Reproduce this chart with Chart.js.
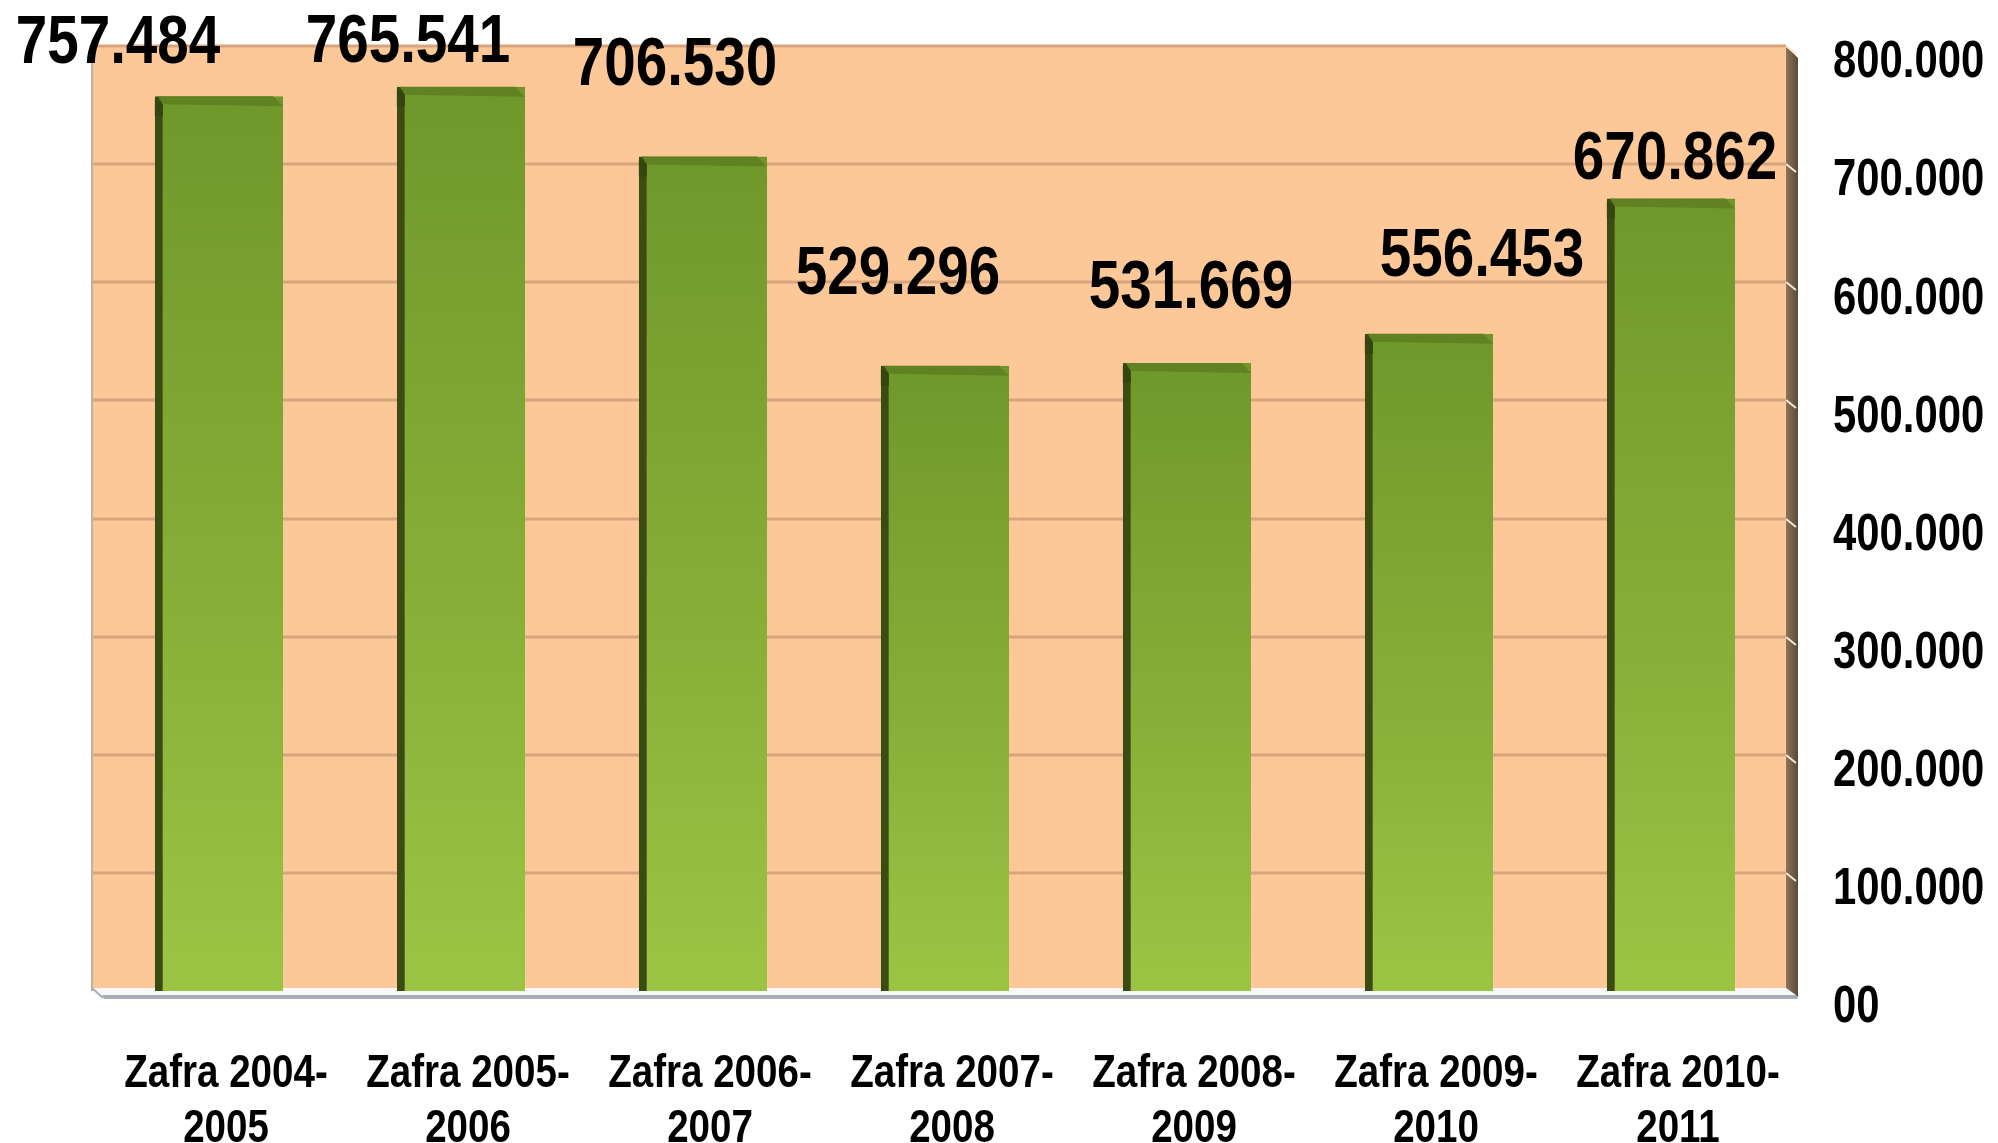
<!DOCTYPE html>
<html>
<head>
<meta charset="utf-8">
<script src="https://cdn.jsdelivr.net/npm/chart.js@4.4.0/dist/chart.umd.min.js"></script>
<style>
  html, body { margin: 0; padding: 0; background: #ffffff; }
  #wrap { width: 1998px; height: 1143px; }
</style>
</head>
<body>
<div id="wrap"><canvas id="zafraChart" width="1998" height="1143"></canvas></div>
<script>
// Datos de la gráfica
const categories = [
    ['Zafra 2004-', '2005'],
    ['Zafra 2005-', '2006'],
    ['Zafra 2006-', '2007'],
    ['Zafra 2007-', '2008'],
    ['Zafra 2008-', '2009'],
    ['Zafra 2009-', '2010'],
    ['Zafra 2010-', '2011']
];
const values = [757484, 765541, 706530, 529296, 531669, 556453, 670862];
const tickValues = [0, 100000, 200000, 300000, 400000, 500000, 600000, 700000, 800000];
const tickLabels = ['00', '100.000', '200.000', '300.000', '400.000', '500.000', '600.000', '700.000', '800.000'];

// desplazamiento de cada etiqueta respecto al centro superior de su barra (px)
const labelShift = [[-101, -58], [-53, -49], [-28, -96], [-47, -96], [4, -80], [53, -82], [4, -44]];

const FONT = "'Liberation Sans', Arial, sans-serif";
const NARROW = 0.82;   // simula Arial Narrow
const SHIFT = 6;       // las barras 3D van algo desplazadas respecto al panel

function formatValue(v) {
    return Math.floor(v / 1000) + '.' + String(v % 1000).padStart(3, '0');
}

// texto negrita estrecho, y = centro de las mayúsculas
function narrowText(ctx, text, x, y, size, align) {
    ctx.save();
    ctx.translate(x, y + size * 0.358);
    ctx.scale(NARROW, 1);
    ctx.font = 'bold ' + size + 'px ' + FONT;
    ctx.textAlign = align;
    ctx.textBaseline = 'alphabetic';
    ctx.fillStyle = '#000000';
    ctx.fillText(text, 0, 0);
    ctx.restore();
}

// Fondo, rejilla, pared derecha y suelo del efecto 3D
const backdrop = {
    id: 'backdrop',
    beforeDatasetsDraw(chart) {
        const { ctx, chartArea: a } = chart;
        const yScale = chart.scales.y;
        const left = a.left - SHIFT;
        const right = a.right - SHIFT;
        ctx.save();
        // pared derecha
        const wall = ctx.createLinearGradient(right, 0, right + 12, 0);
        wall.addColorStop(0, '#8c745c');
        wall.addColorStop(1, '#5a4838');
        ctx.fillStyle = wall;
        ctx.beginPath();
        ctx.moveTo(right, a.top);
        ctx.lineTo(right + 12, a.top + 12);
        ctx.lineTo(right + 12, a.bottom + 6);
        ctx.lineTo(right, a.bottom);
        ctx.closePath();
        ctx.fill();
        // panel de fondo
        ctx.fillStyle = '#fdc898';
        ctx.fillRect(left, a.top, right - left, a.bottom - a.top);
        // rejilla
        ctx.strokeStyle = '#d8a47c';
        ctx.lineWidth = 3;
        tickValues.forEach(v => {
            if (v === 0) return;
            const y = Math.round(yScale.getPixelForValue(v));
            ctx.beginPath();
            ctx.moveTo(left, y);
            ctx.lineTo(right, y);
            ctx.stroke();
            ctx.strokeStyle = '#f4e6d8';
            ctx.lineWidth = 2;
            ctx.beginPath();
            ctx.moveTo(right, y);
            ctx.lineTo(right + 10, y + 8);
            ctx.stroke();
            ctx.strokeStyle = '#d8a47c';
            ctx.lineWidth = 3;
        });
        // borde izquierdo
        ctx.strokeStyle = '#bdb3aa';
        ctx.lineWidth = 2;
        ctx.beginPath();
        ctx.moveTo(left, a.top);
        ctx.lineTo(left, a.bottom);
        ctx.stroke();
        // suelo
        ctx.fillStyle = '#f8f8f8';
        ctx.beginPath();
        ctx.moveTo(left, a.bottom - 3);
        ctx.lineTo(right, a.bottom - 3);
        ctx.lineTo(right + 10, a.bottom + 4);
        ctx.lineTo(left + 10, a.bottom + 4);
        ctx.closePath();
        ctx.fill();
        ctx.fillStyle = '#a9aeb4';
        ctx.beginPath();
        ctx.moveTo(left + 10, a.bottom + 4);
        ctx.lineTo(right + 10, a.bottom + 4);
        ctx.lineTo(right + 12, a.bottom + 8);
        ctx.lineTo(left + 12, a.bottom + 8);
        ctx.closePath();
        ctx.fill();
        ctx.strokeStyle = '#a9aeb4';
        ctx.lineWidth = 2;
        ctx.beginPath();
        ctx.moveTo(left, a.bottom - 3);
        ctx.lineTo(left + 11, a.bottom + 7);
        ctx.stroke();
        ctx.restore();
    }
};

// Bisel superior de las barras, etiquetas de valor y de los ejes
const decor = {
    id: 'decor',
    afterDatasetsDraw(chart) {
        const { ctx, chartArea: a } = chart;
        const meta = chart.getDatasetMeta(0);
        ctx.save();
        meta.data.forEach((bar, i) => {
            const half = bar.width / 2;
            const x0 = bar.x - half;
            const x1 = bar.x + half;
            const y0 = bar.y;
            ctx.fillStyle = '#608223';
            ctx.beginPath();
            ctx.moveTo(x0 + 3, y0);
            ctx.lineTo(x1 - 10, y0);
            ctx.lineTo(x1, y0 + 10);
            ctx.lineTo(x0 + 8, y0 + 8);
            ctx.closePath();
            ctx.fill();
            ctx.fillStyle = '#34450f';
            ctx.beginPath();
            ctx.moveTo(x0, y0 + 3);
            ctx.lineTo(x0 + 8, y0 + 8);
            ctx.lineTo(x0 + 8, y0 + 20);
            ctx.lineTo(x0, y0 + 20);
            ctx.closePath();
            ctx.fill();

            narrowText(ctx, formatValue(values[i]), bar.x + labelShift[i][0], y0 + labelShift[i][1], 69, 'center');
        });
        ctx.restore();

        // etiquetas del eje Y (derecha)
        const yScale = chart.scales.y;
        tickValues.forEach((v, i) => {
            narrowText(ctx, tickLabels[i], a.right + 41, yScale.getPixelForValue(v) + 13, 51, 'left');
        });
        // etiquetas del eje X en dos líneas
        const xScale = chart.scales.x;
        categories.forEach((lines, i) => {
            const x = xScale.getPixelForValue(i) + 7;
            lines.forEach((t, j) => {
                narrowText(ctx, t, x, a.bottom + 79 + j * 55, 47, 'center');
            });
        });
    }
};

const ctx = document.getElementById('zafraChart').getContext('2d');
new Chart(ctx, {
    type: 'bar',
    data: {
        labels: categories,
        datasets: [{
            data: values,
            backgroundColor: function(context) {
                const chart = context.chart;
                if (!chart.chartArea) return '#86ad36';
                const yScale = chart.scales.y;
                const top = yScale.getPixelForValue(context.raw);
                const bottom = yScale.getPixelForValue(0);
                const g = chart.ctx.createLinearGradient(0, top, 0, bottom);
                g.addColorStop(0, '#6e982b');
                g.addColorStop(0.5, '#84ac36');
                g.addColorStop(1, '#9cc444');
                return g;
            },
            borderColor: '#3a4c12',
            borderWidth: { left: 8, right: 0, top: 0, bottom: 0 },
            borderSkipped: false,
            barPercentage: 0.53,
            categoryPercentage: 1.0
        }]
    },
    options: {
        responsive: false,
        animation: false,
        devicePixelRatio: 1,
        layout: { padding: { left: 92 + SHIFT, top: 46, right: 0, bottom: 0 } },
        plugins: {
            legend: { display: false },
            tooltip: { enabled: false }
        },
        scales: {
            x: {
                grid: { display: false },
                border: { display: false },
                ticks: { display: false },
                afterFit(axis) { axis.height = 152; }
            },
            y: {
                position: 'right',
                min: 0,
                max: 800000,
                afterBuildTicks(axis) {
                    axis.ticks = tickValues.map(v => ({ value: v }));
                },
                grid: { display: false },
                border: { display: false },
                ticks: { display: false },
                afterFit(axis) { axis.width = 212 - SHIFT; }
            }
        }
    },
    plugins: [backdrop, decor]
});
</script>
</body>
</html>
